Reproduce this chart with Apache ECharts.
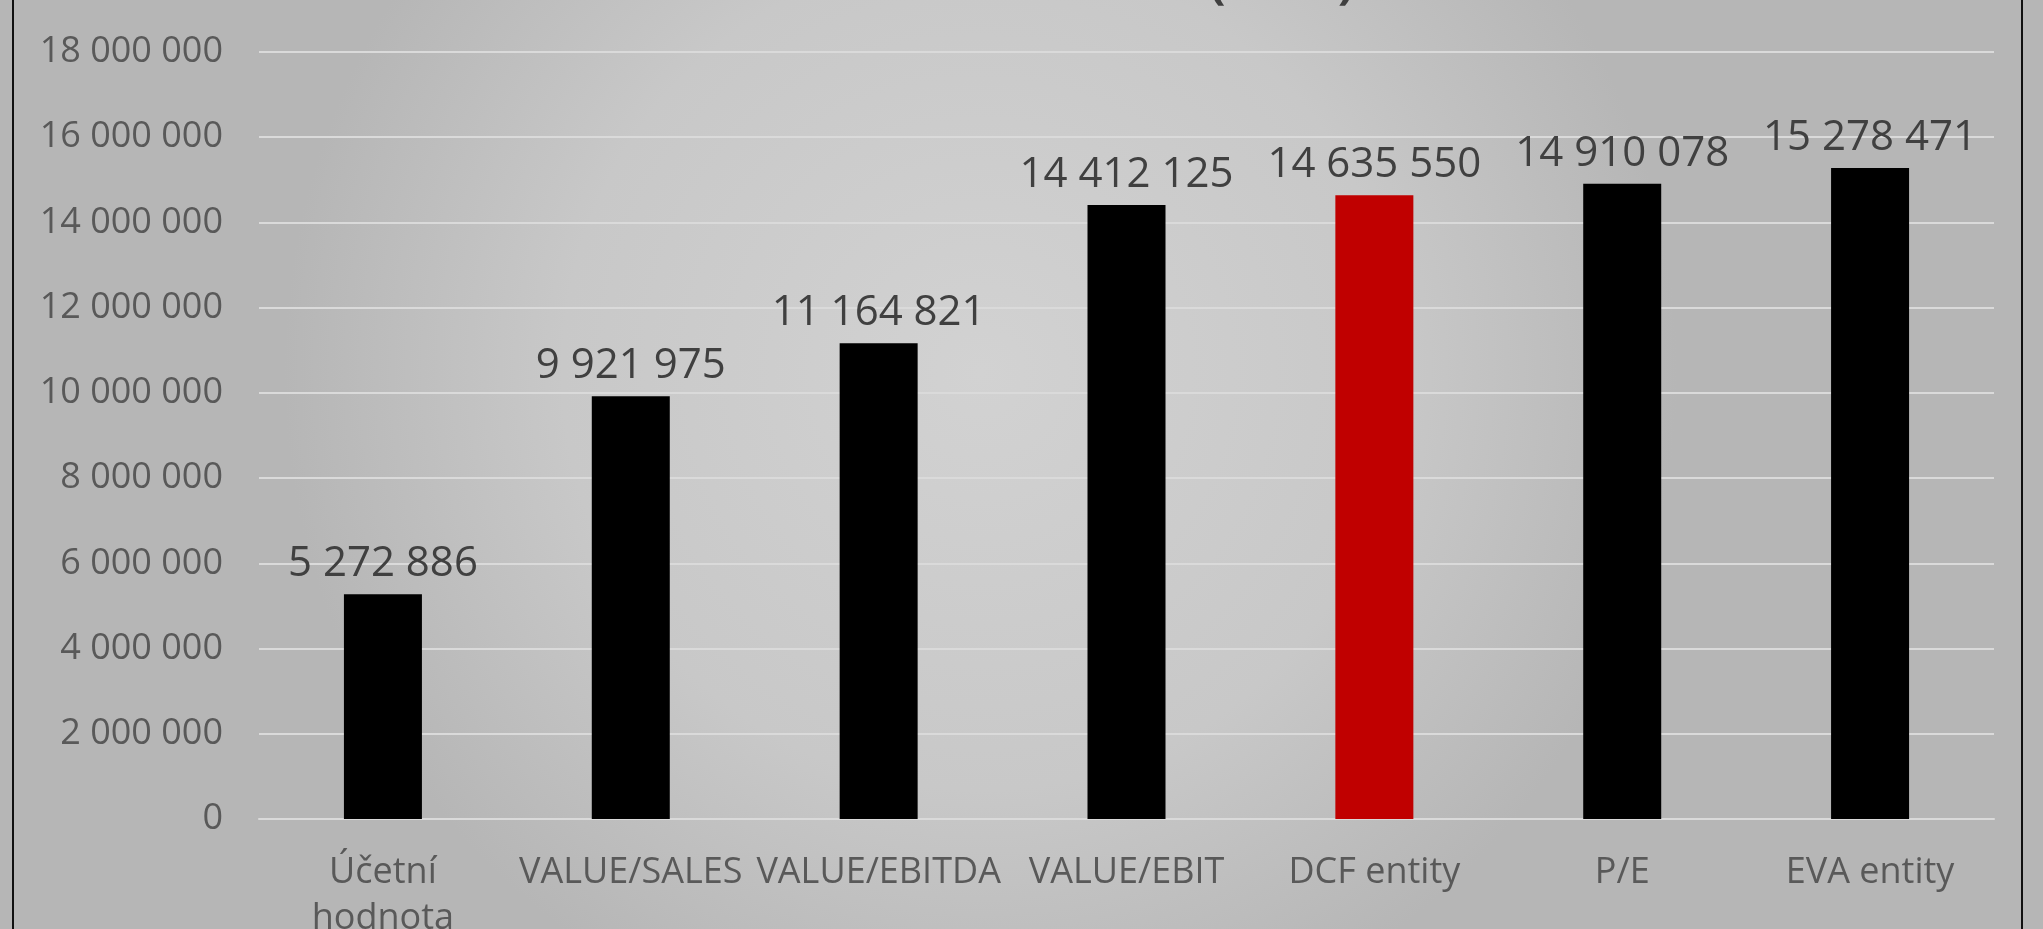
<!DOCTYPE html>
<html>
<head>
<meta charset="utf-8">
<script src="https://cdn.jsdelivr.net/npm/echarts@6/dist/echarts.min.js"></script>
<style>
  html, body { margin: 0; padding: 0; }
  body { background: #c6c6c6; }
  #chart { width: 2043px; height: 929px; }
</style>
</head>
<body>
<div id="chart"></div>
<script>
const categories = ['Účetní\nhodnota', 'VALUE/SALES', 'VALUE/EBITDA', 'VALUE/EBIT', 'DCF entity', 'P/E', 'EVA entity']
const values = [5272886, 9921975, 11164821, 14412125, 14635550, 14910078, 15278471]
const highlighted = 'DCF entity'
const titleText = 'VÝSLEDNÁ HODNOTA (v Kč)'

const fmt = v => String(v).replace(/\B(?=(\d{3})+(?!\d))/g, ' ')

const chart = echarts.init(document.getElementById('chart'))

const option = {
  backgroundColor: {
    type: 'radial', x: 0.48, y: 0.4, r: 0.75,
    colorStops: [
      { offset: 0, color: '#d2d2d2' },
      { offset: 0.6, color: '#c8c8c8' },
      { offset: 1, color: '#b6b6b6' }
    ]
  },
  textStyle: { fontFamily: 'Open Sans' },
  graphic: [
    {
      type: 'rect',
      silent: true,
      shape: { x: 13, y: -10, width: 2009, height: 950 },
      style: { fill: 'none', stroke: '#111', lineWidth: 2 }
    },
    {
      type: 'text',
      silent: true,
      x: 1356, y: 8,
      style: {
        text: titleText,
        font: '600 58px "Open Sans"',
        fill: '#404040',
        textAlign: 'right',
        textVerticalAlign: 'bottom'
      }
    }
  ],
  grid: { left: 259, right: 49, top: 52, bottom: 110, outerBoundsMode: 'none' },
  xAxis: {
    type: 'category',
    data: categories,
    axisLine: { lineStyle: { color: '#dadada', width: 2 } },
    axisTick: { show: false },
    axisLabel: {
      interval: 0,
      color: '#595959',
      fontSize: 36,
      lineHeight: 46,
      margin: 31
    }
  },
  yAxis: {
    type: 'value',
    min: 0,
    max: 18000000,
    interval: 2000000,
    axisLine: { show: false },
    axisTick: { show: false },
    splitLine: { lineStyle: { color: '#dadada', width: 2 } },
    axisLabel: {
      color: '#595959',
      fontSize: 36,
      margin: 36,
      formatter: v => fmt(v)
    }
  },
  series: [
    {
      type: 'bar',
      data: values,
      barWidth: 78,
      itemStyle: {
        color: p => categories[p.dataIndex] === highlighted ? '#c00000' : '#000000'
      },
      label: {
        show: true,
        position: 'top',
        distance: 9,
        color: '#404040',
        fontSize: 42,
        formatter: p => fmt(p.value)
      }
    }
  ]
}

chart.setOption(option)
</script>
</body>
</html>
